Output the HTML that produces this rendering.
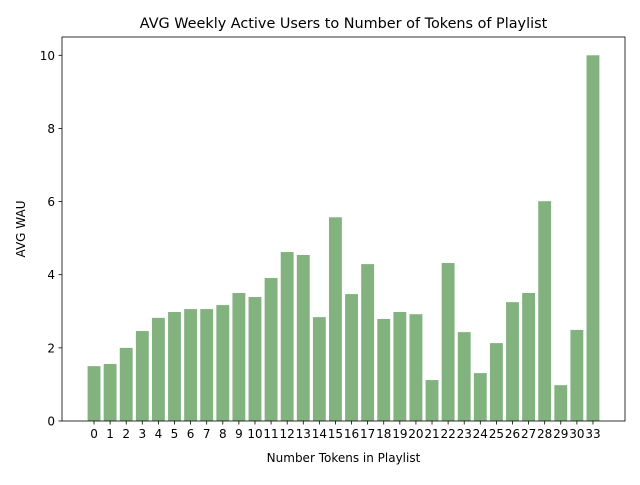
<!DOCTYPE html>
<html><head><meta charset="utf-8"><style>
body{margin:0;background:#fff}
svg text{font-family:"DejaVu Sans","Liberation Sans",sans-serif;fill:#000}
</style></head><body>
<svg id="chart" width="640" height="480" xmlns="http://www.w3.org/2000/svg"></svg>
<script>
const categories=["0","1","2","3","4","5","6","7","8","9","10","11","12","13","14","15","16","17","18","19","20","21","22","23","24","25","26","27","28","29","30","33"];
const values=[1.5,1.56,2.0,2.46,2.82,2.98,3.06,3.06,3.17,3.5,3.39,3.91,4.62,4.54,2.84,5.57,3.47,4.29,2.79,2.98,2.92,1.12,4.32,2.43,1.31,2.13,3.25,3.5,6.01,0.98,2.49,10.0];
const yTicks=[0,2,4,6,8,10];
const NS="http://www.w3.org/2000/svg";
const svg=document.getElementById('chart');
const L=62,R=625,T=37,B=421;
const n=categories.length;
const xmin=-0.4-0.05*(n-1+0.8),xmax=n-1+0.4+0.05*(n-1+0.8);
const ymax=Math.max(...values)*1.05;
const x=v=>L+(v-xmin)/(xmax-xmin)*(R-L);
const y=v=>B-v/ymax*(B-T);
function mk(tag,attrs,txt){const e=document.createElementNS(NS,tag);for(const k in attrs)e.setAttribute(k,attrs[k]);if(txt!==undefined)e.textContent=txt;svg.appendChild(e);return e;}
const bw=x(0.8)-x(0);
values.forEach((v,i)=>{
  const r=mk('rect',{x:x(i)-bw/2,y:y(v),width:bw,height:B-y(v),fill:'#82b37f'});
  
  
  const t=mk('line',{x1:x(i),x2:x(i),y1:B,y2:B+3.5,stroke:'#000','stroke-width':0.8});
  
  
  const lb=mk('text',{x:x(i),y:B+17,'text-anchor':'middle','font-size':12},categories[i]);
  
  
});
yTicks.forEach(v=>{
  const t=mk('line',{x1:L-3.5,x2:L,y1:y(v),y2:y(v),stroke:'#000','stroke-width':0.8});
  
  
  const lb=mk('text',{x:L-7,y:y(v)+4.5,'text-anchor':'end','font-size':12},String(v));
  
  
});
const fr=mk('rect',{x:L,y:T,width:R-L,height:B-T,fill:'none',stroke:'#000','stroke-width':0.8});


const ti=mk('text',{x:(L+R)/2,y:28,'text-anchor':'middle','font-size':14.4},'AVG Weekly Active Users to Number of Tokens of Playlist');


const xt=mk('text',{x:(L+R)/2,y:462,'text-anchor':'middle','font-size':12},'Number Tokens in Playlist');


const yt=mk('text',{x:0,y:0,'text-anchor':'middle','font-size':12,transform:'translate(25,'+((T+B)/2)+') rotate(-90)'},'AVG WAU');


</script>
</body></html>
